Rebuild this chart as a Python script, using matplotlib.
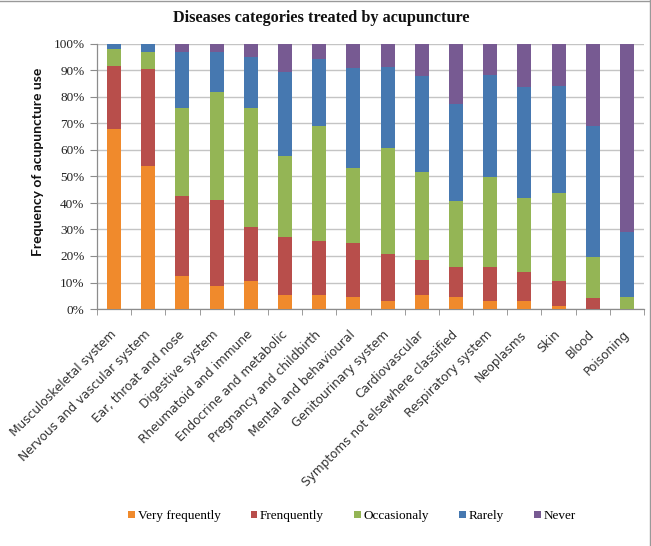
import matplotlib
matplotlib.use("Agg")
import matplotlib.pyplot as plt
import numpy as np
from matplotlib.lines import Line2D

categories = ["Musculoskeletal system", "Nervous and vascular system", "Ear, throat and nose",
              "Digestive system", "Rheumatoid and immune", "Endocrine and metabolic",
              "Pregnancy and childbirth", "Mental and behavioural", "Genitourinary system",
              "Cardiovascular", "Symptoms not elsewhere classified", "Respiratory system",
              "Neoplasms", "Skin", "Blood", "Poisoning"]

# segment sizes (percent)
very_frequently = [68, 54, 12.6, 8.8, 10.4, 5.1, 5.3, 4.4, 3.2, 5.3, 4.4, 3.2, 3.2, 1.3, 0, 0]
frequently      = [23.8, 36.7, 30.0, 32.2, 20.5, 22.0, 20.5, 20.5, 17.4, 13.3, 11.4, 12.6, 10.6, 9.1, 4.0, 0]
occasionally    = [6.2, 6.3, 33.4, 40.8, 44.9, 30.7, 43.3, 28.4, 40.3, 33.2, 24.9, 34.1, 28.1, 33.2, 15.8, 4.4]
rarely          = [2.0, 3.0, 20.8, 15.0, 19.2, 31.5, 25.2, 37.6, 30.4, 36.3, 36.8, 38.5, 41.8, 40.6, 49.3, 24.6]
never           = [0, 0, 3.2, 3.2, 5.0, 10.7, 5.7, 9.1, 8.7, 11.9, 22.5, 11.6, 16.3, 15.8, 30.9, 71.0]

series_names = ["Very frequently", "Frenquently", "Occasionaly", "Rarely", "Never"]
series_vals = [very_frequently, frequently, occasionally, rarely, never]
colors = ["#F08A2C", "#B84E4B", "#94B555", "#4678B0", "#775A92"]

fig = plt.figure(figsize=(6.51, 5.46), dpi=100)
ax = fig.add_axes([97/651, 1-309/546, (644-97)/651, (309-44)/546])

x = np.arange(len(categories))
bottom = np.zeros(len(categories))
for name, vals, c in zip(series_names, series_vals, colors):
    v = np.array(vals, dtype=float)
    ax.bar(x, v, 0.41, bottom=bottom, color=c, label=name, zorder=3)
    bottom += v

ax.set_xlim(-0.5, len(categories) - 0.5)
ax.set_ylim(0, 100)
ax.set_yticks(np.arange(0, 101, 10))
ax.set_yticklabels([f"{t}%" for t in range(0, 101, 10)], fontsize=9.5,
                   family="Liberation Serif", color="#222222")
ax.yaxis.grid(True, color="#C4C4C4", linewidth=1.0, zorder=0)
ax.set_axisbelow(True)

ax.set_xticks(x)
ax.set_xticklabels(categories, rotation=45, ha="right", va="center",
                   rotation_mode="anchor", fontsize=8.7, family="DejaVu Sans", color="#333333")
ax.tick_params(axis="x", length=0, pad=17)
ax.set_xticks(np.arange(-0.5, len(categories), 1), minor=True)
ax.tick_params(axis="x", which="minor", length=4, color="#8C8C8C")
ax.tick_params(axis="y", length=5, color="#8C8C8C", pad=4)

for s in ["top", "right"]:
    ax.spines[s].set_visible(False)
for s in ["left", "bottom"]:
    ax.spines[s].set_color("#8C8C8C")
    ax.spines[s].set_linewidth(0.9)

fig.text(321/651, 1-18/546, "Diseases categories treated by acupuncture",
         ha="center", va="center", fontsize=11.7, fontweight="bold",
         family="Liberation Serif", color="#111111")
fig.text(38/651, 1-162/546, "Frequency of acupuncture use", rotation=90,
         ha="center", va="center", fontsize=10, fontweight="bold",
         family="Lato", color="#111111")

handles, labels = ax.get_legend_handles_labels()
leg = fig.legend(handles, labels, loc="center", bbox_to_anchor=(352/651, 1-516/546),
                 ncol=5, frameon=False, handlelength=0.5, handleheight=0.5,
                 handletextpad=0.2, columnspacing=2.3,
                 prop={"family": "Liberation Serif", "size": 9.5})

# figure border (top and right visible in reference)
fig.add_artist(Line2D([0, 1], [0.999, 0.999], transform=fig.transFigure, color="#999999", lw=1))
fig.add_artist(Line2D([0.999, 0.999], [0, 1], transform=fig.transFigure, color="#999999", lw=1))

fig.savefig("out.png", dpi=100)
